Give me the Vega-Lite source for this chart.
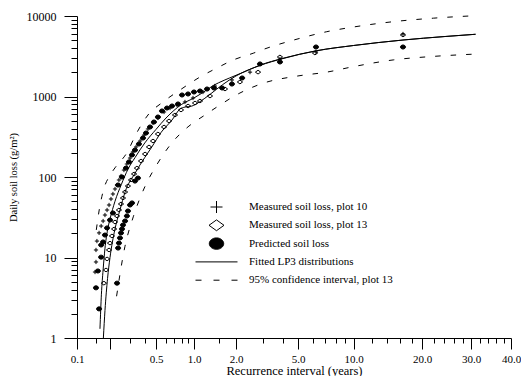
{
  "$schema": "https://vega.github.io/schema/vega-lite/v6.json",
  "width": 434,
  "height": 322,
  "autosize": {"type": "none"},
  "padding": {"left": 77, "top": 16, "right": 10, "bottom": 38},
  "background": "white",
  "config": {
    "view": {"stroke": null},
    "font": "Liberation Serif",
    "axis": {
      "grid": false,
      "domainColor": "black",
      "tickColor": "black",
      "labelColor": "black",
      "titleColor": "black",
      "labelFont": "Liberation Serif",
      "titleFont": "Liberation Serif",
      "domainWidth": 1,
      "tickWidth": 1,
      "titleFontWeight": "normal",
      "labelOverlap": false,
      "labelFlush": false
    },
    "legend": {
      "orient": "none", "legendX": 133, "legendY": 184.5,
      "title": null, "padding": 0,
      "symbolSize": 144, "symbolStrokeWidth": 1, "symbolStrokeColor": "black",
      "labelFont": "Liberation Serif", "labelFontSize": 11, "labelColor": "black",
      "labelOffset": 26, "rowPadding": 1.3, "labelLimit": 300, "gridAlign": "all"
    }
  },
  "resolve": {"axis": {"x": "independent", "y": "independent"}},
  "datasets": {
    "lines": [
      {"curve": "LP3 plot 10", "kind": "fit", "T": 0.162, "L": 1.3},
      {"curve": "LP3 plot 10", "kind": "fit", "T": 0.167, "L": 3.5},
      {"curve": "LP3 plot 10", "kind": "fit", "T": 0.173, "L": 7},
      {"curve": "LP3 plot 10", "kind": "fit", "T": 0.18, "L": 13},
      {"curve": "LP3 plot 10", "kind": "fit", "T": 0.19, "L": 22},
      {"curve": "LP3 plot 10", "kind": "fit", "T": 0.2, "L": 30},
      {"curve": "LP3 plot 10", "kind": "fit", "T": 0.221, "L": 50},
      {"curve": "LP3 plot 10", "kind": "fit", "T": 0.25, "L": 80},
      {"curve": "LP3 plot 10", "kind": "fit", "T": 0.286, "L": 125},
      {"curve": "LP3 plot 10", "kind": "fit", "T": 0.33, "L": 175},
      {"curve": "LP3 plot 10", "kind": "fit", "T": 0.4, "L": 265},
      {"curve": "LP3 plot 10", "kind": "fit", "T": 0.5, "L": 390},
      {"curve": "LP3 plot 10", "kind": "fit", "T": 0.6, "L": 540},
      {"curve": "LP3 plot 10", "kind": "fit", "T": 0.8, "L": 800},
      {"curve": "LP3 plot 10", "kind": "fit", "T": 1.0, "L": 960},
      {"curve": "LP3 plot 10", "kind": "fit", "T": 1.14, "L": 1100},
      {"curve": "LP3 plot 10", "kind": "fit", "T": 1.375, "L": 1370},
      {"curve": "LP3 plot 10", "kind": "fit", "T": 1.5, "L": 1480},
      {"curve": "LP3 plot 10", "kind": "fit", "T": 1.8, "L": 1700},
      {"curve": "LP3 plot 10", "kind": "fit", "T": 2.2, "L": 1980},
      {"curve": "LP3 plot 10", "kind": "fit", "T": 2.85, "L": 2450},
      {"curve": "LP3 plot 10", "kind": "fit", "T": 4.0, "L": 2980},
      {"curve": "LP3 plot 10", "kind": "fit", "T": 6.3, "L": 3700},
      {"curve": "LP3 plot 10", "kind": "fit", "T": 10, "L": 4300},
      {"curve": "LP3 plot 10", "kind": "fit", "T": 16.5, "L": 5030},
      {"curve": "LP3 plot 10", "kind": "fit", "T": 24, "L": 5550},
      {"curve": "LP3 plot 10", "kind": "fit", "T": 31, "L": 5930},
      {"curve": "LP3 plot 13", "kind": "fit", "T": 0.174, "L": 1.0},
      {"curve": "LP3 plot 13", "kind": "fit", "T": 0.18, "L": 2.2},
      {"curve": "LP3 plot 13", "kind": "fit", "T": 0.19, "L": 5.5},
      {"curve": "LP3 plot 13", "kind": "fit", "T": 0.2, "L": 10},
      {"curve": "LP3 plot 13", "kind": "fit", "T": 0.22, "L": 22},
      {"curve": "LP3 plot 13", "kind": "fit", "T": 0.244, "L": 39},
      {"curve": "LP3 plot 13", "kind": "fit", "T": 0.27, "L": 65},
      {"curve": "LP3 plot 13", "kind": "fit", "T": 0.33, "L": 112},
      {"curve": "LP3 plot 13", "kind": "fit", "T": 0.4, "L": 175},
      {"curve": "LP3 plot 13", "kind": "fit", "T": 0.46, "L": 236},
      {"curve": "LP3 plot 13", "kind": "fit", "T": 0.55, "L": 360},
      {"curve": "LP3 plot 13", "kind": "fit", "T": 0.67, "L": 511},
      {"curve": "LP3 plot 13", "kind": "fit", "T": 0.775, "L": 700},
      {"curve": "LP3 plot 13", "kind": "fit", "T": 0.85, "L": 740},
      {"curve": "LP3 plot 13", "kind": "fit", "T": 0.96, "L": 760},
      {"curve": "LP3 plot 13", "kind": "fit", "T": 1.1, "L": 860},
      {"curve": "LP3 plot 13", "kind": "fit", "T": 1.3, "L": 1060},
      {"curve": "LP3 plot 13", "kind": "fit", "T": 1.6, "L": 1400},
      {"curve": "LP3 plot 13", "kind": "fit", "T": 2.0, "L": 1800},
      {"curve": "LP3 plot 13", "kind": "fit", "T": 2.85, "L": 2430},
      {"curve": "LP3 plot 13", "kind": "fit", "T": 4.0, "L": 2960},
      {"curve": "LP3 plot 13", "kind": "fit", "T": 6.3, "L": 3700},
      {"curve": "LP3 plot 13", "kind": "fit", "T": 10, "L": 4300},
      {"curve": "LP3 plot 13", "kind": "fit", "T": 16.5, "L": 5030},
      {"curve": "LP3 plot 13", "kind": "fit", "T": 24, "L": 5550},
      {"curve": "LP3 plot 13", "kind": "fit", "T": 31, "L": 5930},
      {"curve": "CI upper", "kind": "ci", "T": 0.15, "L": 22},
      {"curve": "CI upper", "kind": "ci", "T": 0.16, "L": 40},
      {"curve": "CI upper", "kind": "ci", "T": 0.175, "L": 70},
      {"curve": "CI upper", "kind": "ci", "T": 0.2, "L": 105},
      {"curve": "CI upper", "kind": "ci", "T": 0.221, "L": 130},
      {"curve": "CI upper", "kind": "ci", "T": 0.28, "L": 200},
      {"curve": "CI upper", "kind": "ci", "T": 0.34, "L": 352},
      {"curve": "CI upper", "kind": "ci", "T": 0.426, "L": 589},
      {"curve": "CI upper", "kind": "ci", "T": 0.568, "L": 855},
      {"curve": "CI upper", "kind": "ci", "T": 0.775, "L": 1205},
      {"curve": "CI upper", "kind": "ci", "T": 1.104, "L": 1746},
      {"curve": "CI upper", "kind": "ci", "T": 1.46, "L": 2260},
      {"curve": "CI upper", "kind": "ci", "T": 1.91, "L": 2841},
      {"curve": "CI upper", "kind": "ci", "T": 2.58, "L": 3450},
      {"curve": "CI upper", "kind": "ci", "T": 3.0, "L": 3850},
      {"curve": "CI upper", "kind": "ci", "T": 5.0, "L": 5200},
      {"curve": "CI upper", "kind": "ci", "T": 7.16, "L": 6383},
      {"curve": "CI upper", "kind": "ci", "T": 10, "L": 7300},
      {"curve": "CI upper", "kind": "ci", "T": 14.95, "L": 8500},
      {"curve": "CI upper", "kind": "ci", "T": 22, "L": 9400},
      {"curve": "CI upper", "kind": "ci", "T": 30.9, "L": 10090},
      {"curve": "CI lower", "kind": "ci", "T": 0.228, "L": 3.3},
      {"curve": "CI lower", "kind": "ci", "T": 0.269, "L": 13.6},
      {"curve": "CI lower", "kind": "ci", "T": 0.318, "L": 32},
      {"curve": "CI lower", "kind": "ci", "T": 0.401, "L": 76},
      {"curve": "CI lower", "kind": "ci", "T": 0.506, "L": 141},
      {"curve": "CI lower", "kind": "ci", "T": 0.666, "L": 264},
      {"curve": "CI lower", "kind": "ci", "T": 0.897, "L": 420},
      {"curve": "CI lower", "kind": "ci", "T": 1.2, "L": 590},
      {"curve": "CI lower", "kind": "ci", "T": 1.46, "L": 741},
      {"curve": "CI lower", "kind": "ci", "T": 2.12, "L": 1105},
      {"curve": "CI lower", "kind": "ci", "T": 2.99, "L": 1463},
      {"curve": "CI lower", "kind": "ci", "T": 5.0, "L": 1800},
      {"curve": "CI lower", "kind": "ci", "T": 7.16, "L": 2008},
      {"curve": "CI lower", "kind": "ci", "T": 10, "L": 2350},
      {"curve": "CI lower", "kind": "ci", "T": 14.95, "L": 2847},
      {"curve": "CI lower", "kind": "ci", "T": 22, "L": 3150},
      {"curve": "CI lower", "kind": "ci", "T": 30.9, "L": 3364}
    ],
    "points": [
      {"series": "Measured soil loss, plot 10", "T": 0.146, "L": 6.6},
      {"series": "Measured soil loss, plot 10", "T": 0.149, "L": 8.8},
      {"series": "Measured soil loss, plot 10", "T": 0.149, "L": 12.4},
      {"series": "Measured soil loss, plot 10", "T": 0.152, "L": 16.0},
      {"series": "Measured soil loss, plot 10", "T": 0.159, "L": 20.2},
      {"series": "Measured soil loss, plot 10", "T": 0.166, "L": 24.6},
      {"series": "Measured soil loss, plot 10", "T": 0.173, "L": 28.4},
      {"series": "Measured soil loss, plot 10", "T": 0.18, "L": 33.7},
      {"series": "Measured soil loss, plot 10", "T": 0.188, "L": 38.9},
      {"series": "Measured soil loss, plot 10", "T": 0.196, "L": 44.9},
      {"series": "Measured soil loss, plot 10", "T": 0.204, "L": 53.3},
      {"series": "Measured soil loss, plot 10", "T": 0.212, "L": 61.5},
      {"series": "Measured soil loss, plot 10", "T": 0.221, "L": 71},
      {"series": "Measured soil loss, plot 10", "T": 0.23, "L": 79.5},
      {"series": "Measured soil loss, plot 10", "T": 0.239, "L": 91.8},
      {"series": "Measured soil loss, plot 10", "T": 0.249, "L": 103},
      {"series": "Measured soil loss, plot 10", "T": 0.264, "L": 122},
      {"series": "Measured soil loss, plot 10", "T": 0.28, "L": 145},
      {"series": "Measured soil loss, plot 10", "T": 0.298, "L": 172},
      {"series": "Measured soil loss, plot 10", "T": 0.316, "L": 205},
      {"series": "Measured soil loss, plot 10", "T": 0.336, "L": 236},
      {"series": "Measured soil loss, plot 10", "T": 0.364, "L": 280},
      {"series": "Measured soil loss, plot 10", "T": 0.394, "L": 332},
      {"series": "Measured soil loss, plot 10", "T": 0.426, "L": 395},
      {"series": "Measured soil loss, plot 10", "T": 0.471, "L": 469},
      {"series": "Measured soil loss, plot 10", "T": 0.518, "L": 541},
      {"series": "Measured soil loss, plot 10", "T": 0.579, "L": 642},
      {"series": "Measured soil loss, plot 10", "T": 0.646, "L": 719},
      {"series": "Measured soil loss, plot 10", "T": 0.733, "L": 784},
      {"series": "Measured soil loss, plot 10", "T": 0.848, "L": 855},
      {"series": "Measured soil loss, plot 10", "T": 0.982, "L": 958},
      {"series": "Measured soil loss, plot 10", "T": 1.16, "L": 1137},
      {"series": "Measured soil loss, plot 10", "T": 1.41, "L": 1350},
      {"series": "Measured soil loss, plot 10", "T": 1.87, "L": 1604},
      {"series": "Measured soil loss, plot 10", "T": 2.46, "L": 2008},
      {"series": "Measured soil loss, plot 10", "T": 3.83, "L": 2924},
      {"series": "Measured soil loss, plot 10", "T": 6.26, "L": 3572},
      {"series": "Measured soil loss, plot 10", "T": 16.5, "L": 5976},
      {"series": "Measured soil loss, plot 13", "T": 0.176, "L": 4.8},
      {"series": "Measured soil loss, plot 13", "T": 0.184, "L": 7.0},
      {"series": "Measured soil loss, plot 13", "T": 0.188, "L": 9.6},
      {"series": "Measured soil loss, plot 13", "T": 0.196, "L": 12.4},
      {"series": "Measured soil loss, plot 13", "T": 0.2, "L": 15.1},
      {"series": "Measured soil loss, plot 13", "T": 0.208, "L": 18.5},
      {"series": "Measured soil loss, plot 13", "T": 0.217, "L": 22.6},
      {"series": "Measured soil loss, plot 13", "T": 0.221, "L": 27.6},
      {"series": "Measured soil loss, plot 13", "T": 0.23, "L": 32.8},
      {"series": "Measured soil loss, plot 13", "T": 0.239, "L": 38.9},
      {"series": "Measured soil loss, plot 13", "T": 0.249, "L": 46.2},
      {"series": "Measured soil loss, plot 13", "T": 0.259, "L": 54.8},
      {"series": "Measured soil loss, plot 13", "T": 0.27, "L": 65.1},
      {"series": "Measured soil loss, plot 13", "T": 0.286, "L": 77.3},
      {"series": "Measured soil loss, plot 13", "T": 0.304, "L": 91.8},
      {"series": "Measured soil loss, plot 13", "T": 0.323, "L": 109},
      {"series": "Measured soil loss, plot 13", "T": 0.342, "L": 129},
      {"series": "Measured soil loss, plot 13", "T": 0.371, "L": 158},
      {"series": "Measured soil loss, plot 13", "T": 0.402, "L": 193},
      {"series": "Measured soil loss, plot 13", "T": 0.435, "L": 236},
      {"series": "Measured soil loss, plot 13", "T": 0.471, "L": 280},
      {"series": "Measured soil loss, plot 13", "T": 0.518, "L": 342},
      {"series": "Measured soil loss, plot 13", "T": 0.579, "L": 418},
      {"series": "Measured soil loss, plot 13", "T": 0.634, "L": 496},
      {"series": "Measured soil loss, plot 13", "T": 0.707, "L": 589},
      {"series": "Measured soil loss, plot 13", "T": 0.789, "L": 680},
      {"series": "Measured soil loss, plot 13", "T": 0.897, "L": 762},
      {"series": "Measured soil loss, plot 13", "T": 1.017, "L": 830},
      {"series": "Measured soil loss, plot 13", "T": 1.104, "L": 879},
      {"series": "Measured soil loss, plot 13", "T": 1.302, "L": 1014},
      {"series": "Measured soil loss, plot 13", "T": 1.668, "L": 1239},
      {"series": "Measured soil loss, plot 13", "T": 2.12, "L": 1514},
      {"series": "Measured soil loss, plot 13", "T": 2.77, "L": 2008},
      {"series": "Measured soil loss, plot 13", "T": 3.83, "L": 3097},
      {"series": "Measured soil loss, plot 13", "T": 6.18, "L": 3470},
      {"series": "Measured soil loss, plot 13", "T": 16.5, "L": 5808},
      {"series": "Predicted soil loss", "T": 0.149, "L": 4.2},
      {"series": "Predicted soil loss", "T": 0.159, "L": 2.3},
      {"series": "Predicted soil loss", "T": 0.155, "L": 6.8},
      {"series": "Predicted soil loss", "T": 0.166, "L": 10.1},
      {"series": "Predicted soil loss", "T": 0.166, "L": 14.3},
      {"series": "Predicted soil loss", "T": 0.173, "L": 15.6},
      {"series": "Predicted soil loss", "T": 0.18, "L": 19.0},
      {"series": "Predicted soil loss", "T": 0.188, "L": 23.3},
      {"series": "Predicted soil loss", "T": 0.2, "L": 29.2},
      {"series": "Predicted soil loss", "T": 0.212, "L": 35.7},
      {"series": "Predicted soil loss", "T": 0.23, "L": 4.8},
      {"series": "Predicted soil loss", "T": 0.235, "L": 13.1},
      {"series": "Predicted soil loss", "T": 0.239, "L": 15.1},
      {"series": "Predicted soil loss", "T": 0.244, "L": 17.5},
      {"series": "Predicted soil loss", "T": 0.249, "L": 20.2},
      {"series": "Predicted soil loss", "T": 0.254, "L": 22.6},
      {"series": "Predicted soil loss", "T": 0.259, "L": 25.3},
      {"series": "Predicted soil loss", "T": 0.27, "L": 28.4},
      {"series": "Predicted soil loss", "T": 0.28, "L": 32.8},
      {"series": "Predicted soil loss", "T": 0.286, "L": 37.8},
      {"series": "Predicted soil loss", "T": 0.298, "L": 44.9},
      {"series": "Predicted soil loss", "T": 0.31, "L": 47.6},
      {"series": "Predicted soil loss", "T": 0.329, "L": 89},
      {"series": "Predicted soil loss", "T": 0.349, "L": 97},
      {"series": "Predicted soil loss", "T": 0.235, "L": 79.5},
      {"series": "Predicted soil loss", "T": 0.254, "L": 100},
      {"series": "Predicted soil loss", "T": 0.275, "L": 129},
      {"series": "Predicted soil loss", "T": 0.292, "L": 154},
      {"series": "Predicted soil loss", "T": 0.31, "L": 188},
      {"series": "Predicted soil loss", "T": 0.329, "L": 216},
      {"series": "Predicted soil loss", "T": 0.356, "L": 257},
      {"series": "Predicted soil loss", "T": 0.386, "L": 305},
      {"series": "Predicted soil loss", "T": 0.41, "L": 352},
      {"series": "Predicted soil loss", "T": 0.444, "L": 418},
      {"series": "Predicted soil loss", "T": 0.48, "L": 482},
      {"series": "Predicted soil loss", "T": 0.518, "L": 556},
      {"series": "Predicted soil loss", "T": 0.558, "L": 661},
      {"series": "Predicted soil loss", "T": 0.611, "L": 719},
      {"series": "Predicted soil loss", "T": 0.67, "L": 762},
      {"series": "Predicted soil loss", "T": 0.747, "L": 807},
      {"series": "Predicted soil loss", "T": 0.804, "L": 1044},
      {"series": "Predicted soil loss", "T": 0.897, "L": 1075},
      {"series": "Predicted soil loss", "T": 1.0, "L": 1137},
      {"series": "Predicted soil loss", "T": 1.104, "L": 1170},
      {"series": "Predicted soil loss", "T": 1.24, "L": 1239},
      {"series": "Predicted soil loss", "T": 1.39, "L": 1276},
      {"series": "Predicted soil loss", "T": 1.59, "L": 1276},
      {"series": "Predicted soil loss", "T": 1.87, "L": 1429},
      {"series": "Predicted soil loss", "T": 2.19, "L": 1698},
      {"series": "Predicted soil loss", "T": 2.85, "L": 2535},
      {"series": "Predicted soil loss", "T": 3.83, "L": 2685},
      {"series": "Predicted soil loss", "T": 6.26, "L": 4120},
      {"series": "Predicted soil loss", "T": 16.5, "L": 4120}
    ]
  },
  "layer": [
    {
      "data": {"name": "lines"},
      "transform": [{"filter": "datum.kind === 'fit'"}],
      "mark": {"type": "line", "stroke": "black", "strokeWidth": 1, "interpolate": "monotone"},
      "encoding": {
        "x": {
          "field": "T", "type": "quantitative",
          "scale": {"type": "log", "domain": [0.1, 0.2, 0.5, 1, 2, 5, 10, 20, 30, 40], "range": [0, 33, 79, 117, 159, 221, 276.5, 345, 394, 434], "nice": false, "zero": false},
          "axis": {
            "orient": "bottom",
            "values": [0.1, 0.2, 0.5, 1, 2, 5, 10, 20, 30, 40],
            "labelExpr": "datum.value == 0.2 ? '' : format(datum.value, '.1f')",
            "tickSize": 11, "labelPadding": 4, "labelFontSize": 11,
            "title": "Recurrence interval (years)", "titleFontSize": 12.5,
            "titleY": 36, "titleBaseline": "alphabetic"
          }
        },
        "y": {
          "field": "L", "type": "quantitative",
          "scale": {"type": "log", "domain": [1, 10000], "nice": false, "zero": false},
          "axis": {
            "orient": "left",
            "values": [1, 10, 100, 1000, 10000],
            "format": "d",
            "tickSize": 13, "labelPadding": 8, "labelFontSize": 12,
            "title": "Daily soil loss (g/m²)", "titleFontSize": 10.5,
            "titleX": -59, "titleY": 161, "titleAngle": -90, "titleBaseline": "bottom", "titleAlign": "center"
          }
        },
        "detail": {"field": "curve"}
      }
    },
    {
      "data": {"name": "lines"},
      "transform": [{"filter": "datum.kind === 'ci'"}],
      "mark": {"type": "line", "stroke": "black", "strokeWidth": 1, "strokeDash": [5.5, 10], "interpolate": "monotone"},
      "encoding": {
        "x": {
          "field": "T", "type": "quantitative",
          "scale": {"type": "log", "domain": [0.1, 0.2, 0.5, 1, 2, 5, 10, 20, 30, 40], "range": [0, 33, 79, 117, 159, 221, 276.5, 345, 394, 434], "nice": false, "zero": false},
          "axis": {
            "orient": "bottom",
            "values": [0.15, 0.3, 0.4, 0.6, 0.7, 0.8, 0.9, 1.5, 3, 4, 6, 7, 8, 9, 12, 14, 16, 18, 22, 24, 26, 28, 32, 34, 36, 38],
            "labels": false, "domain": false, "tickSize": 5, "title": null
          }
        },
        "y": {
          "field": "L", "type": "quantitative",
          "scale": {"type": "log", "domain": [1, 10000], "nice": false, "zero": false},
          "axis": {
            "orient": "left",
            "values": [2, 3, 4, 5, 6, 7, 8, 9, 20, 30, 40, 50, 60, 70, 80, 90, 200, 300, 400, 500, 600, 700, 800, 900, 2000, 3000, 4000, 5000, 6000, 7000, 8000, 9000],
            "labels": false, "domain": false, "tickSize": 6, "title": null
          }
        },
        "detail": {"field": "curve"}
      }
    },
    {
      "data": {"name": "points"},
      "mark": {"type": "point", "filled": true, "strokeWidth": 1, "size": 18, "opacity": 1},
      "encoding": {
        "x": {
          "field": "T", "type": "quantitative",
          "scale": {"type": "log", "domain": [0.1, 0.2, 0.5, 1, 2, 5, 10, 20, 30, 40], "range": [0, 33, 79, 117, 159, 221, 276.5, 345, 394, 434], "nice": false, "zero": false},
          "axis": null
        },
        "y": {
          "field": "L", "type": "quantitative",
          "scale": {"type": "log", "domain": [1, 10000], "nice": false, "zero": false},
          "axis": null
        },
        "shape": {
          "field": "series", "type": "nominal",
          "scale": {
            "domain": ["Measured soil loss, plot 10", "Measured soil loss, plot 13", "Predicted soil loss", "Fitted LP3 distributions", "95% confidence interval, plot 13"],
            "range": ["M-1,0L1,0M0,-1L0,1", "M0,-0.9L1.25,0L0,0.9L-1.25,0Z", "M-1.2,0A1.2,0.95,0,1,1,1.2,0A1.2,0.95,0,1,1,-1.2,0Z", "M-3.5,0L3.5,0", "M-3.5,0L-2.5,0M-0.5,0L0.5,0M2.5,0L3.5,0"]
          },
          "legend": {"orient": "none", "legendX": 133, "legendY": 184.5, "title": null}
        },
        "fill": {
          "field": "series", "type": "nominal",
          "scale": {
            "domain": ["Measured soil loss, plot 10", "Measured soil loss, plot 13", "Predicted soil loss", "Fitted LP3 distributions", "95% confidence interval, plot 13"],
            "range": ["transparent", "transparent", "black", "transparent", "transparent"]
          },
          "legend": {"orient": "none", "legendX": 133, "legendY": 184.5, "title": null}
        },
        "stroke": {
          "field": "series", "type": "nominal",
          "scale": {
            "domain": ["Measured soil loss, plot 10", "Measured soil loss, plot 13", "Predicted soil loss", "Fitted LP3 distributions", "95% confidence interval, plot 13"],
            "range": ["black", "black", "black", "black", "black"]
          },
          "legend": {"orient": "none", "legendX": 133, "legendY": 184.5, "title": null}
        }
      }
    }
  ]
}
